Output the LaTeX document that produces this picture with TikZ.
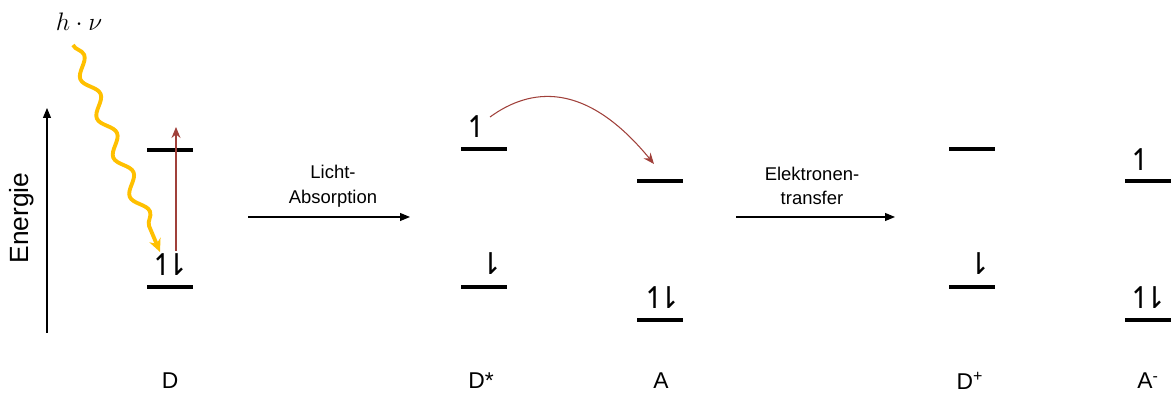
\documentclass[tikz,border=0pt]{standalone}
\usepackage{amsmath,amssymb}
\usepackage{fontspec}
\setmainfont{Liberation Sans}
\newfontfamily\arrowfont{DejaVu Sans}
\usetikzlibrary{arrows.meta,positioning,decorations.pathmorphing}
\definecolor{ink}{HTML}{000000}
\definecolor{exc}{HTML}{A0403A}
\definecolor{photon}{HTML}{FFC000}
\tikzset{
  lvl/.style={fill=ink, inner sep=0pt, minimum width=0.92cm, minimum height=0.075cm},
  spin/.style={inner sep=0pt, font=\arrowfont\fontsize{17}{17}\selectfont, text=ink},
  mol/.style={inner sep=0pt, font=\fontsize{13}{15}\selectfont, text=ink},
  proc/.style={inner sep=0pt, font=\fontsize{10.5}{14}\selectfont, align=center, text=ink},
  ch/.style={-{Triangle[length=2mm,width=1.6mm]}, semithick, draw=ink},
  jump/.style={-{Stealth[length=2.2mm,width=1.8mm]}, semithick, draw=exc},
}
\newcommand{\up}{↿}
\newcommand{\dn}{⇂}
\newcommand{\pair}{\up\kern-0.38em\dn}

\begin{document}
\begin{tikzpicture}[x=0.02cm, y=-0.02cm]
    \useasboundingbox (0,0) rectangle (1171,394);
    % energy axis
    \coordinate (e0) at (47,333); \coordinate (e1) at (47,108);
    \draw[ch] (e0) -- (e1);
    \node[mol, font=\fontsize{15}{15}\selectfont, rotate=90] (en) at (22,218) {Energie};
    % donor D
    \node[lvl] (d1) at (170,150) {};
    \node[lvl] (d0) at (170,287) {};
    \node[spin] (s0) at (170,265) {\pair};
    \node[mol] (lD) at (170,381) {D};
    \coordinate (x0) at (176,251); \coordinate (x1) at (176,127);
    \draw[jump] (x0) -- (x1);
    \node[inner sep=0pt, font=\fontsize{13.5}{15}\selectfont] (hv) at (79,22) {$h\cdot\nu$};
    \coordinate (w0) at (73,45); \coordinate (w1) at (160,252);
    \draw[photon, line width=2.2pt, decorate,
          decoration={snake, amplitude=0.13cm, segment length=0.85cm, post length=2.5mm},
          -{Stealth[length=2.6mm,width=2.4mm]}] (w0) -- (w1);
    % Licht-Absorption
    \coordinate (a0) at (248,217); \coordinate (a1) at (410,217);
    \draw[ch] (a0) -- (a1);
    \node[proc] (la) at (333,186) {Licht-\\Absorption};
    % excited donor D*
    \node[lvl] (ds1) at (484,149) {};
    \node[lvl] (ds0) at (484,287) {};
    \node[spin] (s1) at (477,127) {\up};
    \node[spin] (s2) at (491,264) {\dn};
    \node[mol] (lDs) at (481,381) {D*};
    % acceptor A
    \node[lvl] (a1l) at (660,181) {};
    \node[lvl] (a0l) at (660,320) {};
    \node[spin] (s3) at (662,298) {\pair};
    \node[mol] (lA) at (661,381) {A};
    \coordinate (c0) at (490,117); \coordinate (c1) at (654,164);
    \draw[jump] (c0) .. controls (530,88) and (585,80) .. (c1);
    % Elektronentransfer
    \coordinate (b0) at (736,217); \coordinate (b1) at (895,217);
    \draw[ch] (b0) -- (b1);
    \node[proc] (lt) at (812,186) {Elektronen-\\transfer};
    % D+
    \node[lvl] (dp1) at (972,149) {};
    \node[lvl] (dp0) at (972,287) {};
    \node[spin] (s4) at (979,264) {\dn};
    \node[mol] (lDp) at (970,381) {D\textsuperscript{+}};
    % A-
    \node[lvl] (am1) at (1148,181) {};
    \node[lvl] (am0) at (1148,320) {};
    \node[spin] (s5) at (1141,160) {\up};
    \node[spin] (s6) at (1148,298) {\pair};
    \node[mol] (lAm) at (1148,381) {A\textsuperscript{-}};
  \end{tikzpicture}
\end{document}
